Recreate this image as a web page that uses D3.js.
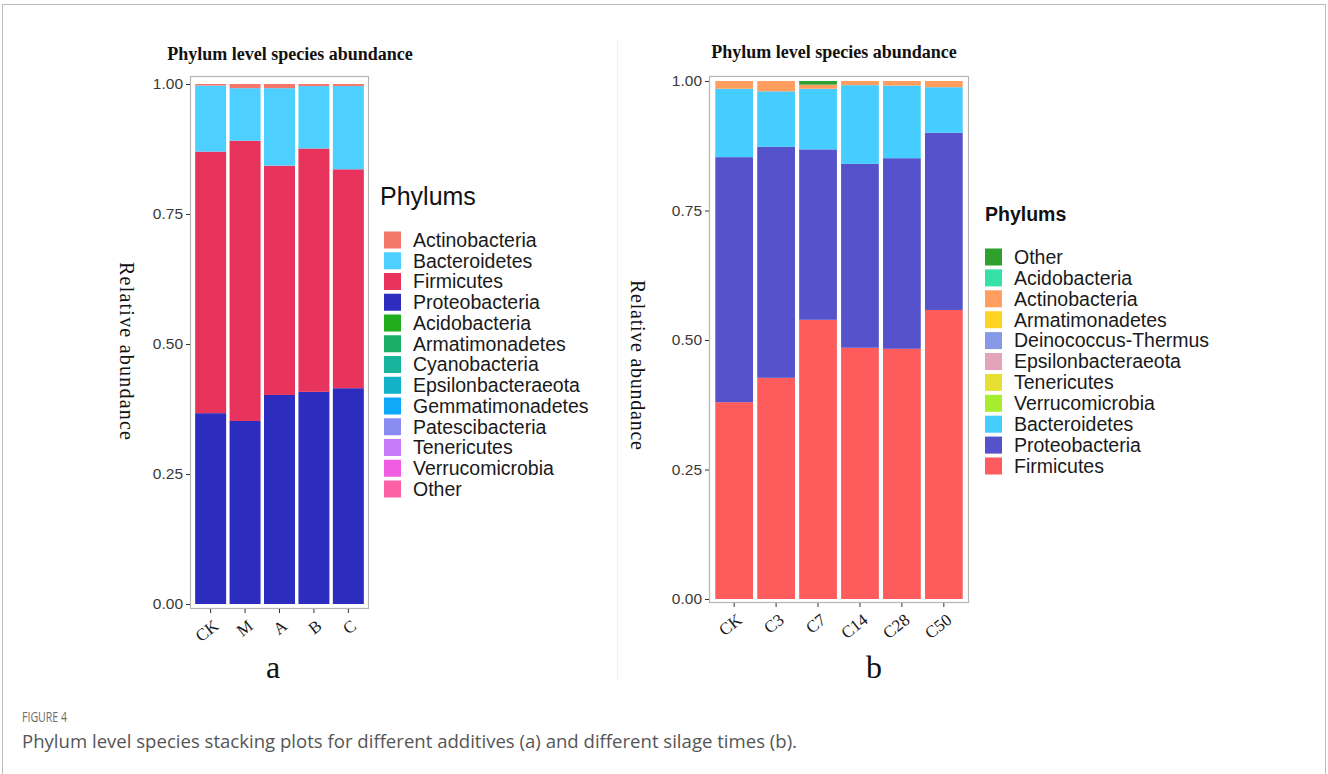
<!DOCTYPE html>
<html>
<head>
<meta charset="utf-8">
<script src="https://cdn.jsdelivr.net/npm/d3@7/dist/d3.min.js"></script>
<style>
  html, body { margin: 0; padding: 0; background: #fff; }
  svg { display: block; }
</style>
</head>
<body>
<svg id="fig" width="1328" height="774"></svg>
<script>
// ---------- Panel a: different additives ----------
const samplesA = ["CK", "M", "A", "B", "C"];
const phylaA = ["Actinobacteria", "Bacteroidetes", "Firmicutes", "Proteobacteria",
  "Acidobacteria", "Armatimonadetes", "Cyanobacteria", "Epsilonbacteraeota",
  "Gemmatimonadetes", "Patescibacteria", "Tenericutes", "Verrucomicrobia", "Other"];
const coloursA = ["#f5766b", "#4dcfff", "#e8345c", "#2c2cbf",
  "#22ad1f", "#19b065", "#19b49c", "#14b2c8",
  "#0fa9f7", "#8a8cf2", "#c57af7", "#f05ce2", "#fc61a6"];
const actinobacteriaA = [0.003, 0.008, 0.008, 0.004, 0.004];
const bacteroidetesA  = [0.127, 0.101, 0.149, 0.120, 0.160];
const firmicutesA     = [0.503, 0.539, 0.441, 0.468, 0.421];
const proteobacteriaA = [0.367, 0.352, 0.402, 0.408, 0.415];
const minorA          = [0, 0, 0, 0, 0]; // remaining phyla, too small to show

// ---------- Panel b: different silage times ----------
const samplesB = ["CK", "C3", "C7", "C14", "C28", "C50"];
const phylaB = ["Other", "Acidobacteria", "Actinobacteria", "Armatimonadetes",
  "Deinococcus-Thermus", "Epsilonbacteraeota", "Tenericutes", "Verrucomicrobia",
  "Bacteroidetes", "Proteobacteria", "Firmicutes"];
const coloursB = ["#2ea02e", "#36e0a9", "#ff9e5f", "#ffd324",
  "#8799e6", "#e5a3bb", "#e6e033", "#a8ec2e",
  "#45cdff", "#5552cc", "#fe5b5c"];
const otherB          = [0, 0, 0.007, 0, 0, 0];
const actinobacteriaB = [0.015, 0.020, 0.008, 0.008, 0.009, 0.012];
const bacteroidetesB  = [0.132, 0.107, 0.117, 0.152, 0.140, 0.088];
const proteobacteriaB = [0.473, 0.446, 0.329, 0.355, 0.368, 0.342];
const firmicutesB     = [0.380, 0.427, 0.539, 0.485, 0.483, 0.558];
const minorB          = [0, 0, 0, 0, 0, 0];

const yTicks = [0, 0.25, 0.5, 0.75, 1.0];

function rowsA() {
  return samplesA.map((s, i) => {
    const r = { sample: s };
    phylaA.forEach(p => r[p] = minorA[i]);
    r["Actinobacteria"] = actinobacteriaA[i];
    r["Bacteroidetes"] = bacteroidetesA[i];
    r["Firmicutes"] = firmicutesA[i];
    r["Proteobacteria"] = proteobacteriaA[i];
    return r;
  });
}
function rowsB() {
  return samplesB.map((s, i) => {
    const r = { sample: s };
    phylaB.forEach(p => r[p] = minorB[i]);
    r["Other"] = otherB[i];
    r["Actinobacteria"] = actinobacteriaB[i];
    r["Bacteroidetes"] = bacteroidetesB[i];
    r["Proteobacteria"] = proteobacteriaB[i];
    r["Firmicutes"] = firmicutesB[i];
    return r;
  });
}

const svg = d3.select("#fig");
const serif = "'Liberation Serif', 'Times New Roman', serif";
const sans = "'Liberation Sans', Arial, sans-serif";

// page frame and divider
svg.append("rect").attr("x", 2.5).attr("y", 4.5).attr("width", 1323).attr("height", 800)
  .attr("fill", "none").attr("stroke", "#bdbdbd").attr("stroke-width", 1);
svg.append("line").attr("x1", 617.5).attr("x2", 617.5).attr("y1", 40).attr("y2", 680)
  .attr("stroke", "#f0f0f0").attr("stroke-width", 1);

function drawPanel(cfg) {
  const g = svg.append("g");
  const x = d3.scaleBand().domain(cfg.samples)
    .range([cfg.left, cfg.right]).paddingInner(0.1).paddingOuter(0.15);
  const y = d3.scaleLinear().domain([0, 1]).range([cfg.y0, cfg.y1]);
  const panelTop = y(cfg.yMax), panelBottom = y(cfg.yMin);

  // stacked bars: last legend entry at the bottom
  const keys = cfg.phyla.slice().reverse();
  const colour = d3.scaleOrdinal().domain(cfg.phyla).range(cfg.colours);
  const series = d3.stack().keys(keys)(cfg.rows);
  g.append("g").selectAll("g").data(series).join("g")
    .attr("fill", d => colour(d.key))
    .selectAll("rect").data(d => d.map(v => ({ v, sample: v.data.sample }))).join("rect")
    .attr("x", d => x(d.sample))
    .attr("width", x.bandwidth())
    .attr("y", d => y(d.v[1]))
    .attr("height", d => Math.max(0, y(d.v[0]) - y(d.v[1])));

  // panel border
  g.append("rect").attr("x", cfg.left + 0.5).attr("y", panelTop + 0.5)
    .attr("width", cfg.right - cfg.left - 1).attr("height", panelBottom - panelTop - 1)
    .attr("fill", "none").attr("stroke", "#b5b5b5").attr("stroke-width", 1.2);

  // y axis
  const ya = g.append("g").attr("transform", `translate(${cfg.left},0)`)
    .call(d3.axisLeft(y).tickValues(yTicks).tickFormat(d3.format(".2f")).tickSize(4).tickPadding(3));
  ya.select(".domain").remove();
  ya.selectAll(".tick line").attr("stroke", "#333");
  ya.selectAll(".tick text").attr("fill", "#3a3a3a")
    .style("font-family", sans).style("font-size", "15.5px");

  // x axis
  const xa = g.append("g").attr("transform", `translate(0,${panelBottom})`)
    .call(d3.axisBottom(x).tickSize(4).tickPadding(0));
  xa.select(".domain").remove();
  xa.selectAll(".tick line").attr("stroke", "#333");
  xa.selectAll(".tick text")
    .attr("text-anchor", "end").attr("x", 0).attr("y", 0).attr("dy", 0)
    .attr("transform", "translate(9,19) rotate(-38)")
    .attr("fill", "#1a1a1a")
    .style("font-family", serif).style("font-size", "17px");

  // titles
  g.append("text").attr("x", cfg.titleX).attr("y", cfg.titleY).attr("text-anchor", "middle")
    .style("font-family", serif)
    .style("font-weight", "bold").style("font-size", "18px").attr("fill", "#111")
    .text("Phylum level species abundance");
  g.append("text").attr("transform", `translate(${cfg.yTitleX},${cfg.yTitleY}) rotate(90)`)
    .attr("text-anchor", "middle")
    .attr("textLength", cfg.yTitleLen).attr("lengthAdjust", "spacing")
    .style("font-family", serif)
    .style("font-size", "20px").attr("fill", "#111")
    .text("Relative abundance");
  g.append("text").attr("x", cfg.tagX).attr("y", cfg.tagY).attr("text-anchor", "middle")
    .style("font-family", serif)
    .style("font-size", "32px").attr("fill", "#111").text(cfg.tag);

  // legend
  const lg = g.append("g").attr("transform", `translate(${cfg.legX},${cfg.legY})`);
  lg.append("text").attr("x", cfg.legTitleDx).attr("y", 0)
    .style("font-family", sans)
    .style("font-size", cfg.legTitleSize).style("font-weight", cfg.legTitleWeight)
    .attr("fill", "#111").text("Phylums");
  const items = lg.selectAll("g.item").data(cfg.phyla).join("g")
    .attr("transform", (d, i) => `translate(0,${cfg.legFirst + i * cfg.legStep})`);
  items.append("rect").attr("x", 0).attr("y", -cfg.keySize / 2)
    .attr("width", cfg.keySize).attr("height", cfg.keySize)
    .attr("fill", d => colour(d));
  items.append("text").attr("x", cfg.keySize + 12).attr("y", 0).attr("dy", "0.35em")
    .style("font-family", sans)
    .style("font-size", "19.5px").attr("fill", "#1a1a1a").text(d => d);
}

drawPanel({
  samples: samplesA, phyla: phylaA, colours: coloursA, rows: rowsA(),
  left: 190, right: 369, y0: 604, y1: 84, yMin: -0.0096, yMax: 1.0154,
  titleX: 290, titleY: 60, yTitleX: 120, yTitleY: 351, yTitleLen: 178,
  tagX: 273, tagY: 678, tag: "a",
  legX: 384, legY: 205, legTitleDx: -4, legTitleSize: "25px", legTitleWeight: "normal",
  legFirst: 35, legStep: 20.75, keySize: 17
});

drawPanel({
  samples: samplesB, phyla: phylaB, colours: coloursB, rows: rowsB(),
  left: 709, right: 969, y0: 599, y1: 81, yMin: -0.0077, yMax: 1.0097,
  titleX: 834, titleY: 58, yTitleX: 631, yTitleY: 365, yTitleLen: 170,
  tagX: 874, tagY: 678, tag: "b",
  legX: 985, legY: 221, legTitleDx: 0, legTitleSize: "19.5px", legTitleWeight: "bold",
  legFirst: 36, legStep: 20.9, keySize: 17
});

// caption
svg.append("text").attr("x", 22).attr("y", 722)
  .attr("textLength", 45).attr("lengthAdjust", "spacingAndGlyphs")
  .style("font-family", "'Open Sans', 'Noto Sans', sans-serif").style("font-size", "14px")
  .attr("fill", "#6b6b6b").text("FIGURE 4");
svg.append("text").attr("x", 22).attr("y", 748)
  .attr("textLength", 775).attr("lengthAdjust", "spacingAndGlyphs")
  .style("font-family", "'Open Sans', 'Noto Sans', sans-serif").style("font-size", "17.5px")
  .attr("fill", "#555")
  .text("Phylum level species stacking plots for different additives (a) and different silage times (b).");
</script>
</body>
</html>
